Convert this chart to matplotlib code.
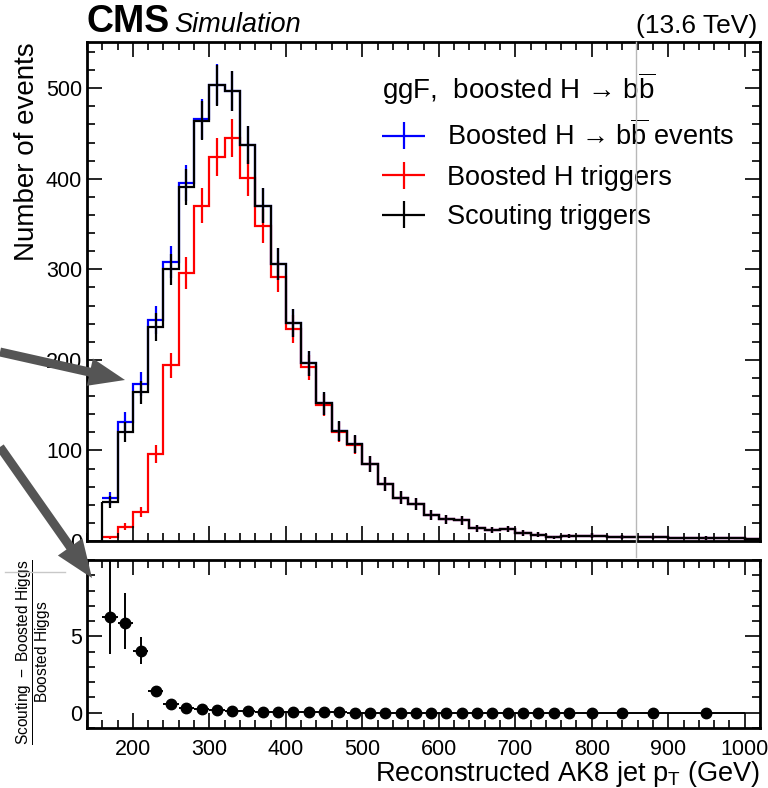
import numpy as np
import matplotlib
matplotlib.use("Agg")
import matplotlib.pyplot as plt
from matplotlib.transforms import Affine2D
from matplotlib.patches import FancyArrow
from matplotlib.lines import Line2D
from matplotlib.ticker import MultipleLocator, FixedLocator
from matplotlib.legend_handler import HandlerErrorbar
from matplotlib.container import ErrorbarContainer

plt.rcParams['font.family'] = ['Liberation Sans', 'DejaVu Sans']
plt.rcParams['mathtext.fontset'] = 'custom'
plt.rcParams['mathtext.rm'] = 'Liberation Sans'
plt.rcParams['mathtext.it'] = 'Liberation Sans:italic'
plt.rcParams['mathtext.bf'] = 'Liberation Sans:bold'

# ---------------- data ----------------
bin_edges = [160, 180, 200, 220, 240, 260, 280, 300, 320, 340, 360, 380, 400,
             420, 440, 460, 480, 500, 520, 540, 560, 580, 600, 620, 640, 660,
             680, 700, 720, 740, 760, 780, 820, 860, 900, 1000, 1100]

scouting = [43, 120, 164, 236, 300, 391, 464, 503, 497, 437, 370, 306, 241,
            196, 152, 122, 107, 85, 63, 48, 41, 29, 24, 23, 14, 12, 13, 9, 7,
            4, 5, 6, 4.5, 4, 3.5, 1.7]
boosted_events = [47, 131, 173, 244, 308, 395, 466, 504, 497, 437, 370, 306,
                  241, 196, 152, 122, 107, 85, 63, 48, 41, 29, 24, 23, 14, 12,
                  13, 9, 7, 4, 5, 6, 4.5, 4, 3.5, 1.7]
boosted_trig = [4, 16, 32, 96, 194, 296, 370, 424, 445, 401, 348, 292, 234,
                192, 150, 120, 106, 85, 63, 48, 41, 29, 24, 23, 14, 12, 13, 9,
                7, 4, 5, 6, 4.5, 4, 3.5, 1.7]

ratio_x = [170, 190, 210, 230, 250, 270, 290, 310, 330, 350, 370, 390, 410,
           430, 450, 470, 490, 510, 530, 550, 570, 590, 610, 630, 650, 670,
           690, 710, 730, 750, 770, 800, 840, 880, 950]
ratio_xerr = [10]*31 + [20, 20, 20, 50]
ratio_y = [6.3, 5.87, 4.02, 1.40, 0.55, 0.31, 0.24, 0.17, 0.11, 0.09, 0.07,
           0.05, 0.04, 0.03, 0.02, 0.02, 0.01, 0.01, 0.0, 0.0, 0.0, 0.0, 0.0,
           0.0, 0.0, 0.0, 0.0, 0.0, 0.0, 0.0, 0.0, 0.0, 0.0, 0.0, 0.0]
ratio_err_lo = [2.45, 1.72, 0.83, 0.12, 0.05, 0.03, 0.02, 0.02, 0.01, 0.01,
                0.01, 0.01, 0.01, 0.01, 0.01, 0.01, 0.01, 0.01, 0.0, 0.0, 0.0,
                0.0, 0.0, 0.0, 0.0, 0.0, 0.0, 0.0, 0.0, 0.0, 0.0, 0.0, 0.0,
                0.0, 0.0]
ratio_err_hi = [4.0, 1.97, 0.93, 0.12, 0.05, 0.03, 0.02, 0.02, 0.01, 0.01,
                0.01, 0.01, 0.01, 0.01, 0.01, 0.01, 0.01, 0.01, 0.0, 0.0, 0.0,
                0.0, 0.0, 0.0, 0.0, 0.0, 0.0, 0.0, 0.0, 0.0, 0.0, 0.0, 0.0,
                0.0, 0.0]

series = [("Boosted H \u2192 b$\\overline{\\mathrm{b}}$ events", boosted_events, "#0000ff"),
          ("Boosted H triggers", boosted_trig, "#ff0000"),
          ("Scouting triggers", scouting, "#000000")]

# ---------------- figure ----------------
W, H = 768, 788
fig = plt.figure(figsize=(W/100, H/100), dpi=100)
P = Affine2D().scale(1/W, -1/H).translate(0, 1) + fig.transFigure

def axrect(x0, y0, x1, y1):
    return [x0/W, 1 - y1/H, (x1-x0)/W, (y1-y0)/H]

ax = fig.add_axes(axrect(87, 42, 760, 541))
rax = fig.add_axes(axrect(87, 560, 760, 728))

edges = np.array(bin_edges, dtype=float)
centers = 0.5*(edges[1:] + edges[:-1])
handles = []
for label, vals, col in series:
    v = np.array(vals, dtype=float)
    ax.stairs(v, edges, color=col, lw=1.6, baseline=None)
    ax.errorbar(centers, v, yerr=np.sqrt(v), fmt='none', ecolor=col,
                elinewidth=1.6, capsize=0)
    h = ax.errorbar([np.nan], [np.nan], xerr=[1], yerr=[1], fmt='none',
                    ecolor=col, elinewidth=1.6, capsize=0, label=label)
    handles.append(h)
ax.vlines([edges[0]], 0, [scouting[0]], color='black', lw=1.6)

ax.set_xlim(140, 1020)
ax.set_ylim(0, 551)
rax.set_xlim(140, 1020)
rax.set_ylim(-1, 10)

rax.errorbar(ratio_x, ratio_y, xerr=ratio_xerr,
             yerr=[ratio_err_lo, ratio_err_hi], fmt='o', color='black',
             ms=7.5, elinewidth=1.4, capsize=0)

for a in (ax, rax):
    a.xaxis.set_major_locator(MultipleLocator(100))
    a.xaxis.set_minor_locator(MultipleLocator(20))
    a.tick_params(which='both', direction='in', top=True, right=True,
                  labelsize=15.5, width=1.2)
    a.tick_params(which='major', length=11)
    a.tick_params(which='minor', length=6)
    for s in a.spines.values():
        s.set_linewidth(2)
ax.yaxis.set_major_locator(MultipleLocator(100))
ax.yaxis.set_minor_locator(MultipleLocator(20))
ax.tick_params(labelbottom=False)
rax.yaxis.set_major_locator(FixedLocator([0, 5]))
rax.yaxis.set_minor_locator(MultipleLocator(1))
ax.tick_params(axis='x', pad=6)
rax.tick_params(axis='x', pad=8)

ax.set_ylabel("Number of events", fontsize=20, loc='top', labelpad=4)
rax.set_xlabel(r"Reconstructed AK8 jet $\mathrm{p_T}$ (GeV)", fontsize=19.5,
               loc='right', labelpad=-1)
rax.set_ylabel(r"$\dfrac{\mathrm{Scouting\ -\ Boosted\ Higgs}}{\mathrm{Boosted\ Higgs}}$",
               fontsize=11.2)
rax.yaxis.set_label_coords(-0.051, 0.45)

leg = ax.legend(handles=handles, loc='upper left', frameon=False,
                title="ggF,  boosted H \u2192 b$\\overline{\\mathrm{b}}$",
                fontsize=19.5, title_fontsize=20, handlelength=1.6,
                handletextpad=0.8, labelspacing=0.5, borderpad=0,
                borderaxespad=0,
                handler_map={ErrorbarContainer: HandlerErrorbar(xerr_size=0.8, yerr_size=0.5)},
                bbox_to_anchor=(382/W, 1 - 70/H), bbox_transform=fig.transFigure)
leg._legend_box.align = "left"

fig.text(87/W, 1 - 32/H, "CMS", fontsize=27, fontweight='bold', va='baseline')
fig.text(174/W, 1 - 32/H, "Simulation", fontsize=19.5, style='italic', va='baseline')
fig.text(757/W, 1 - 33/H, "(13.6 TeV)", fontsize=19, ha='right', va='baseline')

# overlay decorations (grey guide lines and arrows)
fig.add_artist(Line2D([636, 636], [42, 557], transform=P, color='#b8b8b8', lw=1))
fig.add_artist(Line2D([5, 65], [572, 572], transform=P, color='#c8c8c8', lw=1))
arrow_col = '#555555'
fig.add_artist(FancyArrow(0, 352, 125, 28, width=9, head_width=28, head_length=36,
                          length_includes_head=True, transform=P,
                          color=arrow_col, lw=0))
fig.add_artist(FancyArrow(0, 447, 92, 131, width=9, head_width=30, head_length=38,
                          length_includes_head=True, transform=P,
                          color=arrow_col, lw=0))

fig.savefig("out.png", dpi=100)
